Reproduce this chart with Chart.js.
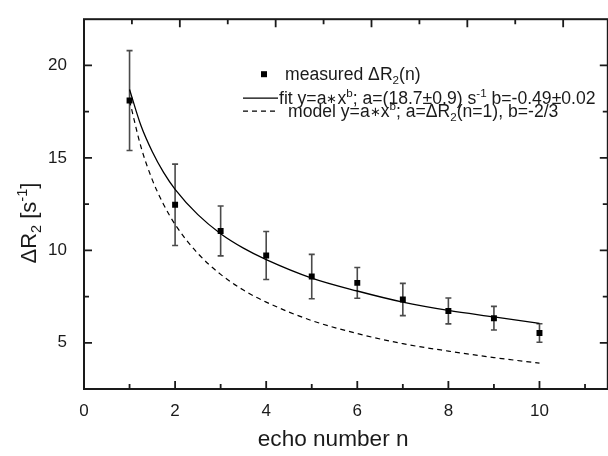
<!DOCTYPE html>
<html><head><meta charset="utf-8">
<script src="https://cdn.jsdelivr.net/npm/chart.js@4/dist/chart.umd.min.js"></script>
<style>html,body{margin:0;padding:0;background:#fff;overflow:hidden;width:608px;height:456px}</style>
</head><body>
<canvas id="c" width="612" height="456" style="display:block;width:612px;height:456px"></canvas>
<script>
// ---- data ----
const ECHO_N = [1, 2, 3, 4, 5, 6, 7, 8, 9, 10];
const MEASURED = [18.1, 12.46, 11.05, 9.72, 8.58, 8.24, 7.34, 6.72, 6.33, 5.53];
const ERRORS = [2.7, 2.2, 1.35, 1.3, 1.2, 0.83, 0.87, 0.7, 0.64, 0.5];
const CURVE_N = [1, 1.25, 1.5, 1.75, 2, 2.5, 3, 3.5, 4, 5, 6, 7, 8, 9, 10];
const FIT = [18.7, 16.75, 15.33, 14.2, 13.3, 11.93, 10.9, 10.12, 9.5, 8.5, 7.8, 7.2, 6.75, 6.4, 6.05];
const MODEL = [18.1, 15.6, 13.81, 12.47, 11.4, 9.83, 8.7, 7.85, 7.2, 6.2, 5.5, 4.95, 4.55, 4.2, 3.9];
const X_TICKS = [0, 2, 4, 6, 8, 10];
const X_MINOR = [1, 3, 5, 7, 9, 11];
const Y_TICKS = [5, 10, 15, 20];
const Y_MINOR = [7.5, 12.5, 17.5];
const TOP_TICK_STEP = 1.052; // top frame ticks (offset from bottom axis in the reference)
const X_TITLE = [['echo number n', 'n']];
const Y_TITLE = [['ΔR', 'n'], ['2', 'sub'], [' [s', 'n'], ['-1', 'sup'], [']', 'n']];
const LEGEND_MEASURED = [['measured ΔR', 'n'], ['2', 'sub'], ['(n)', 'n']];
const LEGEND_FIT = [['fit y=a', 'n'], ['∗', 'star'], ['x', 'n'], ['b', 'sup'], ['; a=(18.7±0.9) s', 'n'], ['-1', 'sup'], [' b=-0.49±0.02', 'n']];
const LEGEND_MODEL = [['model y=a', 'n'], ['∗', 'star'], ['x', 'n'], ['b', 'sup'], ['; a=ΔR', 'n'], ['2', 'sub'], ['(n=1), b=-2/3', 'n']];

const FONT = '"Liberation Sans", Arial, Helvetica, sans-serif';
const INK = '#1a1a1a';

function partSize(k, size) {
  if (k === 'n') return size;
  if (k === 'star') return size * 0.72;
  return size * 0.66;
}
function richWidth(ctx, parts, size) {
  let w = 0;
  for (const [t, k] of parts) {
    ctx.font = partSize(k, size) + 'px ' + FONT;
    w += ctx.measureText(t).width;
  }
  return w;
}
function drawRich(ctx, parts, x, y, size, align) {
  let cx = x;
  if (align === 'center') cx = x - richWidth(ctx, parts, size) / 2;
  ctx.textBaseline = 'alphabetic';
  ctx.textAlign = 'left';
  for (const [t, k] of parts) {
    ctx.font = partSize(k, size) + 'px ' + FONT;
    let dy = 0;
    if (k === 'sub') dy = size * 0.22;
    if (k === 'sup') dy = -size * 0.4;
    if (k === 'star') dy = -size * 0.08;
    ctx.fillText(t, cx, y + dy);
    cx += ctx.measureText(t).width;
  }
}

const deco = {
  id: 'deco',
  beforeDatasetsDraw(chart) {
    const ctx = chart.ctx, xs = chart.scales.x, ys = chart.scales.y;
    ctx.save();
    ctx.strokeStyle = '#4a4a4a';
    ctx.lineWidth = 1.6;
    ECHO_N.forEach((n, i) => {
      const px = xs.getPixelForValue(n);
      const top = ys.getPixelForValue(MEASURED[i] + ERRORS[i]);
      const bot = ys.getPixelForValue(MEASURED[i] - ERRORS[i]);
      ctx.beginPath();
      ctx.moveTo(px, top); ctx.lineTo(px, bot);
      ctx.moveTo(px - 3, top); ctx.lineTo(px + 3, top);
      ctx.moveTo(px - 3, bot); ctx.lineTo(px + 3, bot);
      ctx.stroke();
    });
    ctx.restore();
  },
  afterDraw(chart) {
    const ctx = chart.ctx, xs = chart.scales.x, ys = chart.scales.y;
    const a = chart.chartArea;
    ctx.save();
    ctx.strokeStyle = INK;
    ctx.lineWidth = 2;
    ctx.strokeRect(a.left, a.top, a.right - a.left, a.bottom - a.top);
    ctx.lineWidth = 1.8;
    ctx.beginPath();
    X_TICKS.forEach(v => { const p = xs.getPixelForValue(v); ctx.moveTo(p, a.bottom); ctx.lineTo(p, a.bottom - 8); });
    X_MINOR.forEach(v => { if (v < xs.max) { const p = xs.getPixelForValue(v); ctx.moveTo(p, a.bottom); ctx.lineTo(p, a.bottom - 5); } });
    for (let k = 1; k * TOP_TICK_STEP < xs.max; k++) {
      const p = xs.getPixelForValue(k * TOP_TICK_STEP);
      ctx.moveTo(p, a.top); ctx.lineTo(p, a.top + (k % 2 === 0 ? 8 : 5));
    }
    Y_TICKS.forEach(v => {
      const p = ys.getPixelForValue(v);
      ctx.moveTo(a.left, p); ctx.lineTo(a.left + 8, p);
      ctx.moveTo(a.right, p); ctx.lineTo(a.right - 8, p);
    });
    Y_MINOR.forEach(v => {
      const p = ys.getPixelForValue(v);
      ctx.moveTo(a.left, p); ctx.lineTo(a.left + 5, p);
      ctx.moveTo(a.right, p); ctx.lineTo(a.right - 5, p);
    });
    ctx.stroke();

    ctx.fillStyle = INK;
    // x title
    drawRich(ctx, X_TITLE, xs.getPixelForValue(5.47), a.bottom + 57, 22.6, 'center');
    // y title
    ctx.save();
    ctx.translate(36, (a.top + a.bottom) / 2 + 19);
    ctx.rotate(-Math.PI / 2);
    drawRich(ctx, Y_TITLE, 0, 0, 22, 'center');
    ctx.restore();

    // legend
    const lx = a.left + 159, ly = a.top + 55;
    ctx.fillStyle = '#000';
    ctx.fillRect(lx + 18, ly - 3, 6, 6);
    ctx.fillStyle = INK;
    drawRich(ctx, LEGEND_MEASURED, lx + 42, ly + 6, 17.6);
    ctx.strokeStyle = '#000';
    ctx.lineWidth = 1.3;
    ctx.beginPath(); ctx.moveTo(lx, ly + 24); ctx.lineTo(lx + 35, ly + 24); ctx.stroke();
    drawRich(ctx, LEGEND_FIT, lx + 36, ly + 30, 17.6);
    ctx.setLineDash([5, 4]);
    ctx.beginPath(); ctx.moveTo(lx, ly + 37); ctx.lineTo(lx + 33, ly + 37); ctx.stroke();
    ctx.setLineDash([]);
    drawRich(ctx, LEGEND_MODEL, lx + 45, ly + 43, 17.6);
    ctx.restore();
  }
};

new Chart(document.getElementById('c'), {
  type: 'scatter',
  data: {
    datasets: [
      { label: 'fit', data: CURVE_N.map((n, i) => ({ x: n, y: FIT[i] })), showLine: true, borderColor: '#000', borderWidth: 1.3, pointRadius: 0, cubicInterpolationMode: 'monotone', fill: false },
      { label: 'model', data: CURVE_N.map((n, i) => ({ x: n, y: MODEL[i] })), showLine: true, borderColor: '#000', borderWidth: 1.2, borderDash: [5, 4], pointRadius: 0, cubicInterpolationMode: 'monotone', fill: false },
      { label: 'measured', data: ECHO_N.map((n, i) => ({ x: n, y: MEASURED[i] })), pointStyle: 'rect', pointRadius: 4.2, pointBackgroundColor: '#000', pointBorderWidth: 0, borderColor: '#000' }
    ]
  },
  options: {
    responsive: false, animation: false, devicePixelRatio: 1,
    layout: { padding: { top: 13, right: 2.5, left: 0, bottom: 0 } },
    plugins: { legend: { display: false }, tooltip: { enabled: false } },
    scales: {
      x: {
        type: 'linear', min: 0, max: 11.5,
        afterFit(s) { s.height = 67; },
        afterBuildTicks(s) { s.ticks = X_TICKS.map(v => ({ value: v })); },
        grid: { display: false }, border: { display: false },
        ticks: { padding: 4, color: INK, font: { family: FONT, size: 17 } }
      },
      y: {
        type: 'linear', min: 2.5, max: 22.5,
        afterFit(s) { s.width = 84; },
        afterBuildTicks(s) { s.ticks = Y_TICKS.map(v => ({ value: v })); },
        grid: { display: false }, border: { display: false },
        ticks: { padding: 9, color: INK, font: { family: FONT, size: 17 } }
      }
    }
  },
  plugins: [deco]
});
</script>
</body></html>
